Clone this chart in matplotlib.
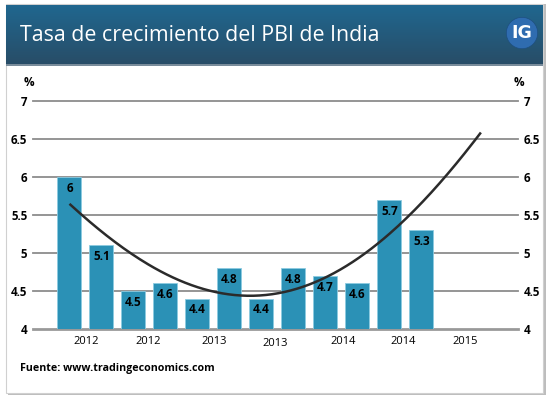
import numpy as np
import matplotlib
matplotlib.use("Agg")
import matplotlib.pyplot as plt
from matplotlib.patches import Rectangle, Circle
from matplotlib.transforms import ScaledTranslation

# ---- data ----
values = [6, 5.1, 4.5, 4.6, 4.4, 4.8, 4.4, 4.8, 4.7, 4.6, 5.7, 5.3]
tick_pos = [0.52, 2.45, 4.52, 6.42, 8.55, 10.42, 12.36]
tick_labels = ["2012", "2012", "2013", "2013", "2014", "2014", "2015"]
trend_x = [0, 1, 2, 3, 4, 5, 6, 7, 8, 9, 10, 11, 12, 12.86]
trend_y = [5.65, 5.28, 4.96, 4.74, 4.56, 4.45, 4.43, 4.52, 4.68, 4.92, 5.26, 5.66, 6.12, 6.59]
y_ticks = [4, 4.5, 5, 5.5, 6, 6.5, 7]
y_tick_labels = ["4", "4.5", "5", "5.5", "6", "6.5", "7"]
title = "Tasa de crecimiento del PBI de India"
source = "Fuente: www.tradingeconomics.com"

W, H = 550, 399
fig = plt.figure(figsize=(W / 100, H / 100), dpi=100)
fig.patch.set_facecolor("white")
FONT = "Open Sans"

def fx(px):
    return px / W

def fy(py):
    return 1 - py / H

# card with shadow
fig.patches.append(Rectangle((fx(8), fy(395)), fx(538), 391 / H, transform=fig.transFigure,
                             facecolor="#bdbdbd", edgecolor="none", zorder=-3))
fig.patches.append(Rectangle((fx(6), fy(393)), fx(537), 389 / H, transform=fig.transFigure,
                             facecolor="white", edgecolor="#d0d0d0", linewidth=0.8, zorder=-2))

# header gradient
hax = fig.add_axes([fx(6), fy(66), fx(537), 61 / H])
grad = np.linspace(0, 1, 100)[:, None]
top = np.array([32, 103, 143]) / 255
bot = np.array([40, 76, 102]) / 255
img = top[None, None, :] * (1 - grad[..., None]) + bot[None, None, :] * grad[..., None]
img = np.repeat(img, 2, axis=1)
hax.imshow(img, aspect="auto", extent=[0, 1, 0, 1])
hax.axhline(0.01, color="#8a9aa6", lw=1.2)
hax.set_xlim(0, 1); hax.set_ylim(0, 1)
hax.set_axis_off()
hax.text(14 / 537, 0.5, title, color="white", fontsize=15.4, family=FONT, va="center", ha="left")

# logo
lax = fig.add_axes([fx(506), fy(49), fx(32), 32 / H])
lax.set_xlim(-1, 1); lax.set_ylim(-1, 1); lax.set_axis_off()
lax.add_patch(Circle((0, 0), 0.98, facecolor="#2f6cb0", edgecolor="#1e4f80", lw=0.5))
lax.text(0, -0.02, "IG", color="white", fontsize=12.5, fontweight="bold", family="DejaVu Sans",
         ha="center", va="center")

# main axes
ax = fig.add_axes([fx(33), fy(329), fx(518 - 33), (329 - 101) / H])
ax.patch.set_visible(False)
ax.set_xlim(-1.14, 14.02)
ax.set_ylim(4, 7)
for s in ax.spines.values():
    s.set_visible(False)

for yv in y_ticks:
    ax.axhline(yv, color="#8c8c8c" if yv > 4 else "#999999", lw=1.3 if yv > 4 else 2.0,
               zorder=1, clip_on=False)

x = np.arange(len(values))
bars = ax.bar(x, np.array(values) - 4, bottom=4, width=0.75, color="#2b91b6",
              edgecolor="#8ccbe0", linewidth=0.6, zorder=2)
for xi, v in zip(x, values):
    ax.annotate(f"{v:g}", (xi, v), xytext=(0, -3.5), textcoords="offset points",
                ha="center", va="top", fontsize=8.5, fontweight="bold", family=FONT,
                color="black", zorder=4)

# trend line (smoothed through points)
coef = np.polyfit(trend_x, trend_y, 4)
xs = np.linspace(trend_x[0], trend_x[-1], 200)
ax.plot(xs, np.polyval(coef, xs), color="#2b2b2b", lw=1.8, zorder=3, solid_capstyle="butt")

# y labels both sides
ax.set_yticks(y_ticks)
ax.set_yticklabels(y_tick_labels)
ax.tick_params(axis="y", length=0, pad=4, labelsize=8.3, left=True, right=True,
               labelleft=True, labelright=True)
for t in ax.yaxis.get_major_ticks():
    t.label1.set_fontweight("bold"); t.label1.set_family(FONT)
    t.label2.set_fontweight("bold"); t.label2.set_family(FONT)

ax.set_xticks(tick_pos)
ax.set_xticklabels(tick_labels)
ax.tick_params(axis="x", length=0, pad=5, labelsize=8)
for i, lbl in enumerate(ax.get_xticklabels()):
    lbl.set_family(FONT)
    if i == 3:
        lbl.set_transform(lbl.get_transform() + ScaledTranslation(0, -2.5 / 100, fig.dpi_scale_trans))

fig.text(fx(24), fy(82), "%", fontsize=8.5, fontweight="bold", family=FONT, ha="left", va="center")
fig.text(fx(524), fy(82), "%", fontsize=8.5, fontweight="bold", family=FONT, ha="right", va="center")
fig.text(fx(20), fy(368), source, fontsize=7.7, fontweight="bold", family=FONT, ha="left", va="center")

fig.savefig("out.png", dpi=100)
